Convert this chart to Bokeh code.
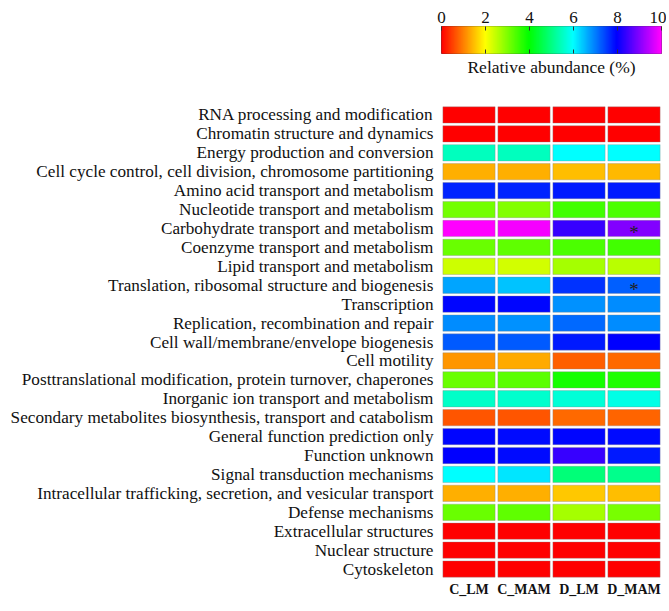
import colorsys
import numpy as np
from bokeh.plotting import figure
from bokeh.models import LinearColorMapper, ColumnDataSource, FixedTicker, Title
from bokeh.layouts import column
from bokeh.embed import file_html
from bokeh.resources import INLINE
from bokeh.core.properties import value

categories = [
    "RNA processing and modification",
    "Chromatin structure and dynamics",
    "Energy production and conversion",
    "Cell cycle control, cell division, chromosome partitioning",
    "Amino acid transport and metabolism",
    "Nucleotide transport and metabolism",
    "Carbohydrate transport and metabolism",
    "Coenzyme transport and metabolism",
    "Lipid transport and metabolism",
    "Translation, ribosomal structure and biogenesis",
    "Transcription",
    "Replication, recombination and repair",
    "Cell wall/membrane/envelope biogenesis",
    "Cell motility",
    "Posttranslational modification, protein turnover, chaperones",
    "Inorganic ion transport and metabolism",
    "Secondary metabolites biosynthesis, transport and catabolism",
    "General function prediction only",
    "Function unknown",
    "Signal transduction mechanisms",
    "Intracellular trafficking, secretion, and vesicular transport",
    "Defense mechanisms",
    "Extracellular structures",
    "Nuclear structure",
    "Cytoskeleton",
]
samples = ["C_LM", "C_MAM", "D_LM", "D_MAM"]

c_lm  = [0.0, 0.0, 5.5, 1.4, 7.7, 3.1, 10.0, 3.2, 2.4, 6.7, 7.95, 6.9, 7.3, 1.18, 3.2, 5.55, 0.7, 7.95, 8.0, 6.0, 1.4, 3.2, 0.0, 0.0, 0.0]
c_mam = [0.0, 0.0, 5.5, 1.4, 7.7, 3.0, 9.9, 3.25, 2.35, 6.45, 7.95, 6.85, 7.3, 1.33, 3.3, 5.6, 0.7, 7.9, 7.9, 6.2, 1.4, 3.25, 0.0, 0.0, 0.0]
d_lm  = [0.0, 0.0, 6.0, 1.5, 7.8, 3.5, 8.4, 3.4, 2.7, 7.6, 6.85, 7.15, 7.8, 0.78, 3.85, 5.7, 0.85, 7.95, 8.4, 4.95, 1.57, 2.7, 0.0, 0.0, 0.0]
d_mam = [0.0, 0.0, 6.0, 1.45, 7.8, 3.4, 9.0, 3.5, 2.55, 7.25, 6.9, 6.9, 8.0, 0.85, 3.75, 5.8, 0.8, 7.9, 7.8, 5.1, 1.5, 3.05, 0.0, 0.0, 0.0]

sig_categories = ["Carbohydrate transport and metabolism",
                  "Translation, ribosomal structure and biogenesis"]
sig_samples = ["D_MAM", "D_MAM"]

colorbar_ticks = [0, 2, 4, 6, 8, 10]
colorbar_title = "Relative abundance (%)"

FONT = "Liberation Serif"

palette = ['#%02x%02x%02x' % tuple(int(round(c * 255)) for c in colorsys.hsv_to_rgb(h / 360.0, 1, 1))
           for h in np.linspace(0, 300, 256)]
mapper = LinearColorMapper(palette=palette, low=0, high=10)

# ---------- colour bar ----------
cb = figure(width=666, height=100, x_range=(0, 10), y_range=(0, 1),
            output_backend="svg", toolbar_location=None,
            x_axis_location="above", y_axis_location=None,
            min_border_left=441, min_border_right=5, min_border_top=26, min_border_bottom=47)
edges = np.linspace(0, 10, len(palette) + 1)
cb.quad(left=edges[:-1], right=edges[1:], bottom=0, top=1,
        fill_color=palette, line_color=palette)
inner_ticks = colorbar_ticks[1:-1]
cb.scatter(x=inner_ticks, y=[0] * len(inner_ticks), marker="dash", angle=np.pi / 2,
           size=8, line_color="#333333", line_width=1)
cb.grid.visible = False
cb.outline_line_color = "#444444"
cb.outline_line_width = 1
top_ax = cb.above[0]
top_ax.ticker = FixedTicker(ticks=colorbar_ticks)
top_ax.axis_line_color = None
top_ax.major_tick_in = 4
top_ax.major_tick_out = 0
top_ax.major_tick_line_color = "#333333"
top_ax.minor_tick_line_color = None
top_ax.major_label_standoff = 4
top_ax.major_label_text_font = FONT
top_ax.major_label_text_font_size = "17px"
top_ax.major_label_text_color = "#111111"

cb.add_layout(Title(text=colorbar_title, align="center", text_font=FONT,
                    text_font_size="17.5px", text_font_style="normal",
                    text_color="#111111", standoff=2), "below")

# ---------- heatmap ----------
xs, ys, vals = [], [], []
for s, arr in zip(samples, [c_lm, c_mam, d_lm, d_mam]):
    for cat, v in zip(categories, arr):
        xs.append(s)
        ys.append(cat)
        vals.append(v)
src = ColumnDataSource(dict(x=xs, y=ys, v=vals))

p = figure(width=666, height=503, x_range=samples, y_range=list(reversed(categories)),
           output_backend="svg", toolbar_location=None,
           min_border_left=441, min_border_right=3, min_border_top=5, min_border_bottom=25)
p.rect(x="x", y="y", width=0.95, height=0.86, source=src,
       fill_color={"field": "v", "transform": mapper},
       line_color="#888888", line_alpha=0.35, line_width=1)
p.text(x=sig_samples, y=sig_categories, text=["*", "*"], text_align="center",
       text_baseline="middle", text_font=value(FONT), text_font_size="19px",
       y_offset=4, text_color="#222222")

p.grid.visible = False
p.outline_line_color = None
for ax in (p.xaxis[0], p.yaxis[0]):
    ax.axis_line_color = None
    ax.major_tick_line_color = None
    ax.minor_tick_line_color = None
    ax.major_tick_out = 0
    ax.major_tick_in = 0
    ax.minor_tick_out = 0
    ax.minor_tick_in = 0
p.yaxis.major_label_text_font = FONT
p.yaxis.major_label_text_font_size = "17.2px"
p.yaxis.major_label_text_color = "#111111"
p.yaxis.major_label_standoff = 8
p.xaxis.major_label_text_font = FONT
p.xaxis.major_label_text_font_size = "14px"
p.xaxis.major_label_text_font_style = "bold"
p.xaxis.major_label_text_color = "#111111"
p.xaxis.major_label_standoff = 3

layout = column(cb, p, spacing=0)
open("out.html", "w").write(file_html(layout, INLINE))
